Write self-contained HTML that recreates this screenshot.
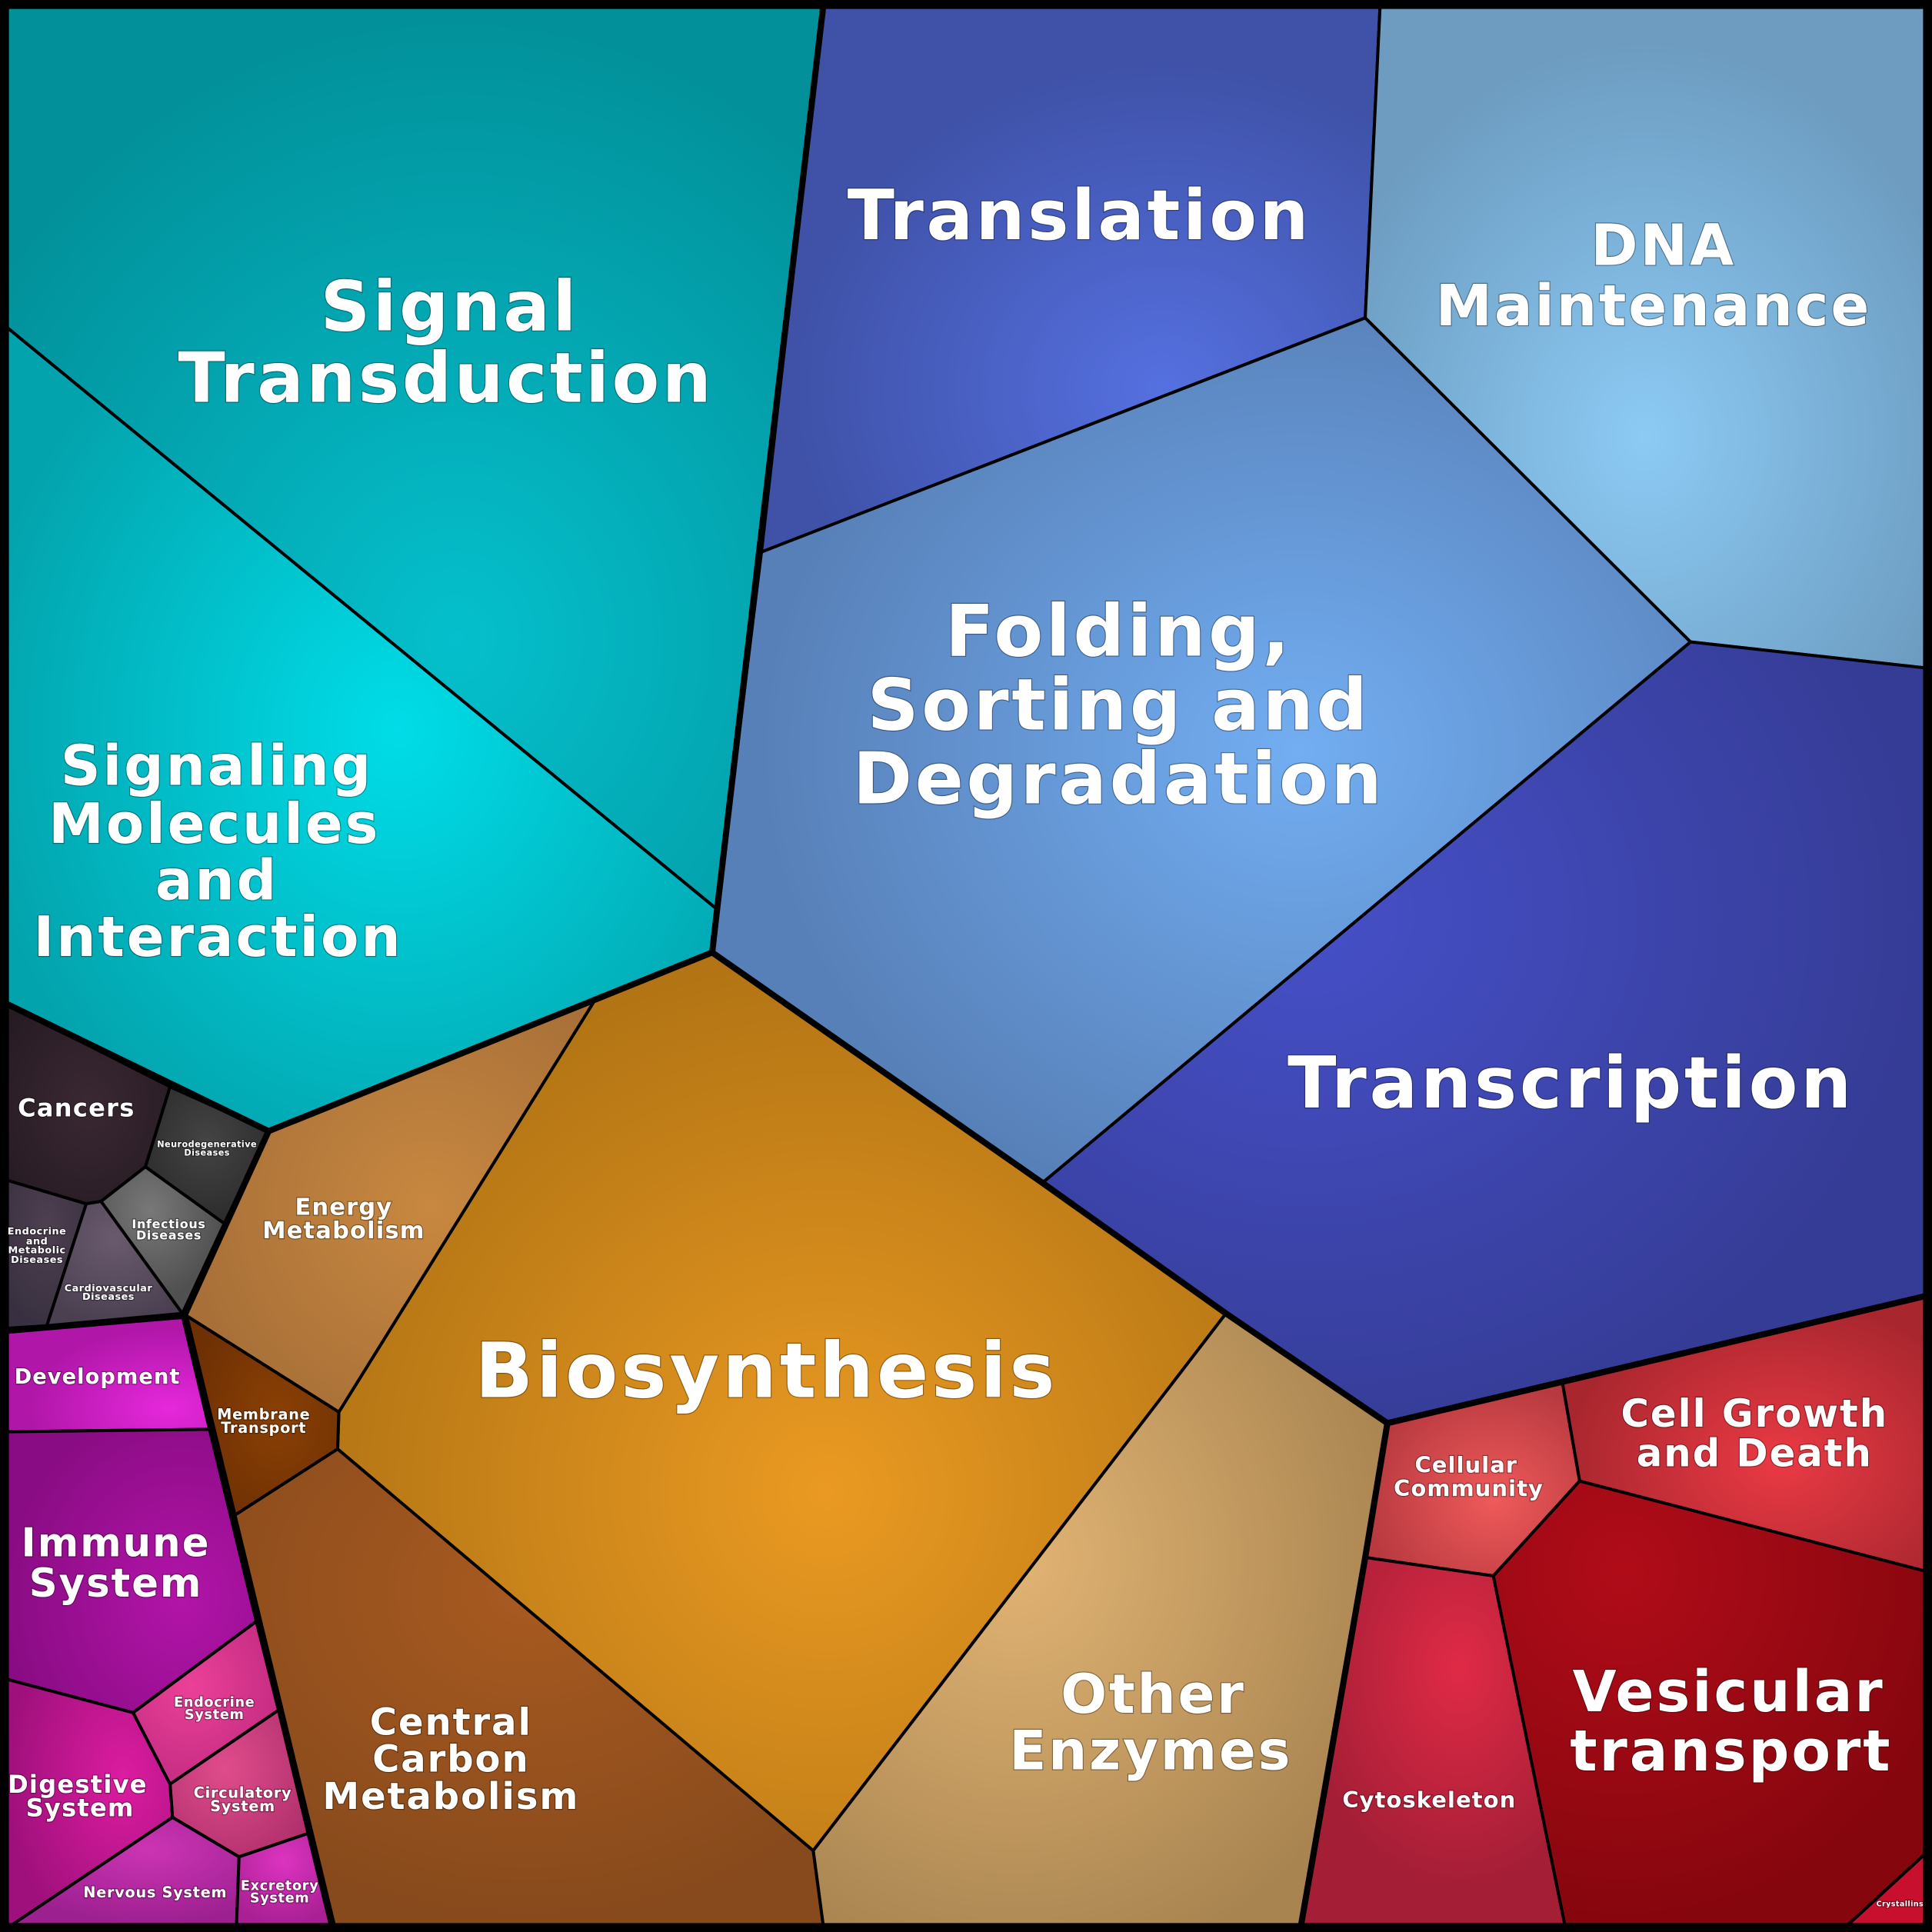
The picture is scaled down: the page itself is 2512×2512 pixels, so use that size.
<!DOCTYPE html>
<html><head><meta charset="utf-8"><style>
html,body{margin:0;padding:0;background:#000}
svg{display:block}
text{font-family:"DejaVu Sans","Liberation Sans",sans-serif;font-weight:bold;fill:#fff;text-anchor:middle;paint-order:stroke;stroke:rgba(0,0,0,0.35);stroke-width:1.5px;letter-spacing:0.04em}
</style></head><body>
<svg width="2512" height="2512" viewBox="0 0 1568 1568" xmlns="http://www.w3.org/2000/svg">
<defs>
<radialGradient id="gST" cx="0.55" cy="0.7" r="0.7"><stop offset="0" stop-color="#04c0cc"/><stop offset="1" stop-color="#02909a"/></radialGradient>
<radialGradient id="gSM" cx="0.55" cy="0.5" r="0.6"><stop offset="0" stop-color="#00dde8"/><stop offset="1" stop-color="#03a3ad"/></radialGradient>
<radialGradient id="gTL" cx="0.65" cy="0.7" r="0.6"><stop offset="0" stop-color="#5570e0"/><stop offset="1" stop-color="#3f52a8"/></radialGradient>
<radialGradient id="gDNA" cx="0.5" cy="0.65" r="0.6"><stop offset="0" stop-color="#8ccaf4"/><stop offset="1" stop-color="#6d9cc0"/></radialGradient>
<radialGradient id="gFO" cx="0.6" cy="0.5" r="0.55"><stop offset="0" stop-color="#72aef2"/><stop offset="1" stop-color="#5880b8"/></radialGradient>
<radialGradient id="gTR" cx="0.3" cy="0.35" r="0.7"><stop offset="0" stop-color="#4650c8"/><stop offset="1" stop-color="#353c96"/></radialGradient>
<radialGradient id="gBI" cx="0.55" cy="0.6" r="0.6"><stop offset="0" stop-color="#ea9a22"/><stop offset="1" stop-color="#b27414"/></radialGradient>
<radialGradient id="gOE" cx="0.35" cy="0.4" r="0.7"><stop offset="0" stop-color="#e2b474"/><stop offset="1" stop-color="#a88450"/></radialGradient>
<radialGradient id="gCC" cx="0.5" cy="0.3" r="0.7"><stop offset="0" stop-color="#a85a20"/><stop offset="1" stop-color="#874a1c"/></radialGradient>
<radialGradient id="gEN" cx="0.6" cy="0.5" r="0.6"><stop offset="0" stop-color="#c88840"/><stop offset="1" stop-color="#a87038"/></radialGradient>
<radialGradient id="gMT" cx="0.6" cy="0.5" r="0.6"><stop offset="0" stop-color="#8a4004"/><stop offset="1" stop-color="#6e3004"/></radialGradient>
<radialGradient id="gRED1" cx="0.6" cy="0.6" r="0.6"><stop offset="0" stop-color="#ea3a44"/><stop offset="1" stop-color="#a8262e"/></radialGradient>
<radialGradient id="gRED2" cx="0.6" cy="0.6" r="0.6"><stop offset="0" stop-color="#f05a5a"/><stop offset="1" stop-color="#b83a40"/></radialGradient>
<radialGradient id="gRED3" cx="0.6" cy="0.3" r="0.6"><stop offset="0" stop-color="#e02a46"/><stop offset="1" stop-color="#a41e36"/></radialGradient>
<radialGradient id="gRED4" cx="0.3" cy="0.2" r="0.8"><stop offset="0" stop-color="#b00c18"/><stop offset="1" stop-color="#86060e"/></radialGradient>
<radialGradient id="gDIS1" cx="0.5" cy="0.5" r="0.6"><stop offset="0" stop-color="#3a2832"/><stop offset="1" stop-color="#281c24"/></radialGradient>
<radialGradient id="gDIS2" cx="0.5" cy="0.4" r="0.6"><stop offset="0" stop-color="#444"/><stop offset="1" stop-color="#2c2c2c"/></radialGradient>
<radialGradient id="gDIS3" cx="0.4" cy="0.3" r="0.6"><stop offset="0" stop-color="#787878"/><stop offset="1" stop-color="#505050"/></radialGradient>
<radialGradient id="gDIS4" cx="0.5" cy="0.3" r="0.7"><stop offset="0" stop-color="#4e4050"/><stop offset="1" stop-color="#383040"/></radialGradient>
<radialGradient id="gDIS5" cx="0.5" cy="0.3" r="0.7"><stop offset="0" stop-color="#6a5a6e"/><stop offset="1" stop-color="#4a4050"/></radialGradient>
<radialGradient id="gDEV" cx="0.8" cy="0.8" r="0.7"><stop offset="0" stop-color="#e628dc"/><stop offset="1" stop-color="#b016a8"/></radialGradient>
<radialGradient id="gIM" cx="0.7" cy="0.6" r="0.7"><stop offset="0" stop-color="#b214a8"/><stop offset="1" stop-color="#8a0c84"/></radialGradient>
<radialGradient id="gES" cx="0.4" cy="0.4" r="0.7"><stop offset="0" stop-color="#ec4098"/><stop offset="1" stop-color="#c02a80"/></radialGradient>
<radialGradient id="gCS" cx="0.4" cy="0.4" r="0.7"><stop offset="0" stop-color="#e04c8c"/><stop offset="1" stop-color="#b0306c"/></radialGradient>
<radialGradient id="gDG" cx="0.7" cy="0.4" r="0.7"><stop offset="0" stop-color="#dc1ca0"/><stop offset="1" stop-color="#a0107c"/></radialGradient>
<radialGradient id="gNS" cx="0.6" cy="0.3" r="0.7"><stop offset="0" stop-color="#cc34b4"/><stop offset="1" stop-color="#9c2090"/></radialGradient>
<radialGradient id="gEX" cx="0.5" cy="0.3" r="0.7"><stop offset="0" stop-color="#dc34c0"/><stop offset="1" stop-color="#aa2094"/></radialGradient>
</defs>
<rect width="1568" height="1568" fill="#000"/>
<g stroke="#000" stroke-width="2.5" stroke-linejoin="round">
<polygon fill="url(#gST)" points="6,6 668,6 582,738 6,266"/>
<polygon fill="url(#gSM)" points="6,266 582,738 578,773 218,918 6,815"/>
<polygon fill="url(#gTL)" points="668,6 1120,6 1108,258 618,448"/>
<polygon fill="url(#gDNA)" points="1120,6 1562,6 1562,542 1372,521 1108,258"/>
<polygon fill="url(#gFO)" points="618,448 1108,258 1372,521 846,960 578,773"/>
<polygon fill="url(#gTR)" points="1372,521 1562,542 1562,1052 1126,1155 995,1066 846,960"/>
<polygon fill="url(#gBI)" points="578,773 846,960 995,1066 660,1502 274,1176 275,1146 482,813"/>
<polygon fill="url(#gOE)" points="995,1066 1126,1155 1108,1264 1056,1562 668,1562 660,1502"/>
<polygon fill="url(#gCC)" points="274,1176 660,1502 668,1562 270,1562 190,1230"/>
<polygon fill="url(#gEN)" points="218,918 482,813 275,1146 150,1067"/>
<polygon fill="url(#gMT)" points="150,1067 275,1146 274,1176 190,1230"/>
<polygon fill="url(#gRED1)" points="1268,1122 1562,1052 1562,1275 1282,1202"/>
<polygon fill="url(#gRED2)" points="1126,1155 1268,1122 1282,1202 1212,1279 1108,1264"/>
<polygon fill="url(#gRED3)" points="1108,1264 1212,1279 1270,1562 1056,1562"/>
<polygon fill="url(#gRED4)" points="1282,1202 1562,1275 1562,1505 1500,1562 1270,1562 1212,1279"/>
<polygon fill="#c8102e" points="1500,1562 1562,1505 1562,1562"/>
<polygon fill="url(#gDIS1)" points="6,815 138,882 118,947 82,975 70,977 6,958"/>
<polygon fill="url(#gDIS2)" points="138,882 218,918 182,993 118,947"/>
<polygon fill="url(#gDIS3)" points="82,975 118,947 182,993 148,1066"/>
<polygon fill="url(#gDIS4)" points="6,958 70,977 38,1076 6,1078"/>
<polygon fill="url(#gDIS5)" points="70,977 82,975 148,1066 38,1076"/>
<polygon fill="url(#gDEV)" points="6,1080 148,1068 170,1160 6,1162"/>
<polygon fill="url(#gIM)" points="6,1162 170,1160 208,1316 108,1390 6,1363"/>
<polygon fill="url(#gES)" points="108,1390 208,1316 226,1388 138,1448"/>
<polygon fill="url(#gCS)" points="138,1448 226,1388 250,1488 194,1507 140,1475"/>
<polygon fill="url(#gDG)" points="6,1363 108,1390 138,1448 140,1475 10,1562 6,1562"/>
<polygon fill="url(#gNS)" points="140,1475 194,1507 192,1562 10,1562"/>
<polygon fill="url(#gEX)" points="194,1507 250,1488 268,1562 192,1562"/>
</g>
<g stroke="#000" stroke-width="5" fill="none" stroke-linejoin="round">
<polyline points="668,6 582,738 578,773"/>
<polyline points="6,815 218,918 578,773 846,960 995,1066 1126,1155 1562,1052"/>
<polyline points="1126,1155 1108,1264 1056,1562"/>
<polyline points="218,918 150,1067 270,1562"/>
<polyline points="6,1080 148,1068"/>
</g>
<rect x="3" y="3" width="1562" height="1562" fill="none" stroke="#000" stroke-width="7"/>
<text x="365" y="268" font-size="56">Signal</text>
<text x="362" y="326" font-size="56">Transduction</text>
<text x="876" y="194" font-size="56">Translation</text>
<text x="1350" y="215" font-size="46">DNA</text>
<text x="1342" y="264" font-size="46">Maintenance</text>
<text x="176" y="637" font-size="45">Signaling</text>
<text x="174" y="684" font-size="45">Molecules</text>
<text x="176" y="730" font-size="45">and</text>
<text x="177" y="776" font-size="45">Interaction</text>
<text x="908" y="532" font-size="58">Folding,</text>
<text x="908" y="592" font-size="58">Sorting and</text>
<text x="908" y="652" font-size="58">Degradation</text>
<text x="1275" y="899" font-size="58">Transcription</text>
<text x="622" y="1134" font-size="62">Biosynthesis</text>
<text x="936" y="1390" font-size="44">Other</text>
<text x="934" y="1436" font-size="44">Enzymes</text>
<text x="366" y="1408" font-size="30">Central</text>
<text x="366" y="1438" font-size="30">Carbon</text>
<text x="366" y="1468" font-size="30">Metabolism</text>
<text x="279" y="986" font-size="19">Energy</text>
<text x="279" y="1005" font-size="19">Metabolism</text>
<text x="214" y="1152" font-size="12">Membrane</text>
<text x="214" y="1163" font-size="12">Transport</text>
<text x="1424" y="1158" font-size="31">Cell Growth</text>
<text x="1424" y="1190" font-size="31">and Death</text>
<text x="1190" y="1195" font-size="18">Cellular</text>
<text x="1192" y="1214" font-size="18">Community</text>
<text x="1160" y="1467" font-size="18">Cytoskeleton</text>
<text x="1403" y="1389" font-size="46">Vesicular</text>
<text x="1405" y="1437" font-size="46">transport</text>
<text x="1542" y="1547" font-size="6" stroke-width="0.5">Crystallins</text>
<text x="62" y="906" font-size="20">Cancers</text>
<text x="168" y="931" font-size="7" stroke-width="0.5">Neurodegenerative</text>
<text x="168" y="938" font-size="7" stroke-width="0.5">Diseases</text>
<text x="137" y="997" font-size="10" stroke-width="0.8">Infectious</text>
<text x="137" y="1006" font-size="10" stroke-width="0.8">Diseases</text>
<text x="30" y="1002" font-size="8" stroke-width="0.6">Endocrine</text>
<text x="30" y="1010" font-size="8" stroke-width="0.6">and</text>
<text x="30" y="1017" font-size="8" stroke-width="0.6">Metabolic</text>
<text x="30" y="1025" font-size="8" stroke-width="0.6">Diseases</text>
<text x="88" y="1048" font-size="8" stroke-width="0.6">Cardiovascular</text>
<text x="88" y="1055" font-size="8" stroke-width="0.6">Diseases</text>
<text x="79" y="1123" font-size="17">Development</text>
<text x="94" y="1263" font-size="32">Immune</text>
<text x="94" y="1296" font-size="32">System</text>
<text x="174" y="1385" font-size="11" stroke-width="0.8">Endocrine</text>
<text x="174" y="1395" font-size="11" stroke-width="0.8">System</text>
<text x="197" y="1459" font-size="12" stroke-width="0.8">Circulatory</text>
<text x="197" y="1470" font-size="12" stroke-width="0.8">System</text>
<text x="63" y="1455" font-size="20">Digestive</text>
<text x="65" y="1474" font-size="20">System</text>
<text x="126" y="1540" font-size="12" stroke-width="0.8">Nervous System</text>
<text x="227" y="1534" font-size="11" stroke-width="0.8">Excretory</text>
<text x="227" y="1544" font-size="11" stroke-width="0.8">System</text>
</svg>
</body></html>
